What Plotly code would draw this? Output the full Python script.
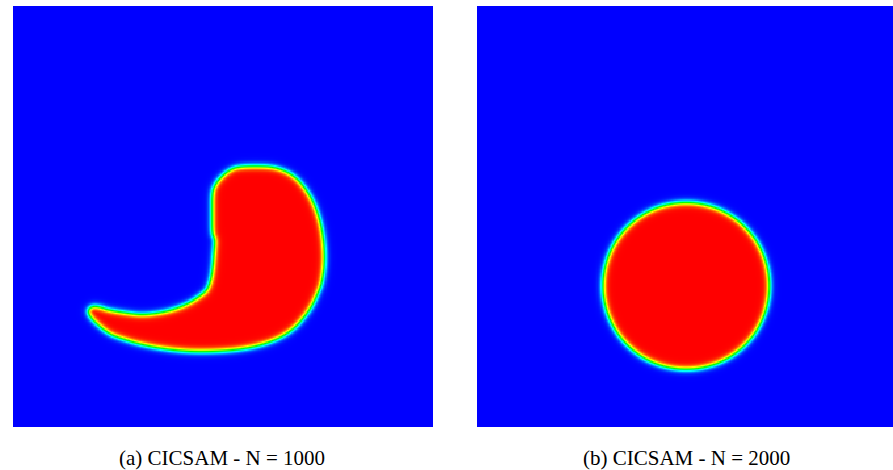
import numpy as np
import plotly.graph_objects as go

# ---- data (unit-square coordinates) ----
# (a) deformed drop boundary (0.5 level contour), N = 1000
shape_a_x = [0.179, 0.190, 0.207, 0.226, 0.267, 0.307, 0.350, 0.386, 0.421, 0.445,
             0.462, 0.471, 0.476, 0.479, 0.481, 0.474, 0.474, 0.474, 0.481, 0.493,
             0.512, 0.533, 0.576, 0.624, 0.667, 0.700, 0.724, 0.738, 0.743, 0.736,
             0.726, 0.707, 0.667, 0.612, 0.540, 0.445, 0.374, 0.307, 0.255, 0.226,
             0.195, 0.181]
shape_a_y = [0.278, 0.287, 0.285, 0.278, 0.271, 0.266, 0.271, 0.280, 0.295, 0.311,
             0.325, 0.349, 0.380, 0.420, 0.444, 0.461, 0.504, 0.556, 0.575, 0.591,
             0.608, 0.618, 0.620, 0.618, 0.599, 0.563, 0.515, 0.461, 0.397, 0.344,
             0.318, 0.278, 0.230, 0.200, 0.183, 0.178, 0.183, 0.195, 0.211, 0.223,
             0.249, 0.266]
# (b) circle, N = 2000
circle_b_center = (0.498, 0.335)
circle_b_radius = 0.198
interface_width = 0.008

captions = ["(a) CICSAM - N = 1000", "(b) CICSAM - N = 2000"]

NG = 320
g = (np.arange(NG) + 0.5) / NG
X, Y = np.meshgrid(g, g)


def chaikin(px, py, it=3):
    p = np.column_stack([px, py])
    for _ in range(it):
        q = np.roll(p, -1, axis=0)
        a = 0.75 * p + 0.25 * q
        b = 0.25 * p + 0.75 * q
        p = np.empty((2 * len(a), 2))
        p[0::2] = a
        p[1::2] = b
    return p


def polygon_field(px, py, w):
    p = chaikin(px, py)
    q = np.roll(p, -1, axis=0)
    pts = np.column_stack([X.ravel(), Y.ravel()])
    dmin = np.full(len(pts), np.inf)
    inside = np.zeros(len(pts), dtype=bool)
    for (x1, y1), (x2, y2) in zip(p, q):
        dx, dy = x2 - x1, y2 - y1
        t = ((pts[:, 0] - x1) * dx + (pts[:, 1] - y1) * dy) / (dx * dx + dy * dy)
        t = np.clip(t, 0, 1)
        d = np.hypot(pts[:, 0] - (x1 + t * dx), pts[:, 1] - (y1 + t * dy))
        dmin = np.minimum(dmin, d)
        cond = ((y1 > pts[:, 1]) != (y2 > pts[:, 1]))
        with np.errstate(divide="ignore", invalid="ignore"):
            xc = x1 + (pts[:, 1] - y1) * dx / dy
        inside ^= cond & (pts[:, 0] < xc)
    sd = np.where(inside, dmin, -dmin)
    return (0.5 * (1 + np.tanh(sd / w))).reshape(X.shape)


def circle_field(c, r, w):
    sd = r - np.hypot(X - c[0], Y - c[1])
    return 0.5 * (1 + np.tanh(sd / w))


za = polygon_field(shape_a_x, shape_a_y, interface_width)
zb = circle_field(circle_b_center, circle_b_radius, interface_width)

cs = [[0.0, "rgb(0,0,255)"], [0.25, "rgb(0,255,255)"], [0.5, "rgb(0,255,0)"],
      [0.75, "rgb(255,255,0)"], [1.0, "rgb(255,0,0)"]]

fig = go.Figure()
fig.add_trace(go.Heatmap(x=g, y=g, z=za, colorscale=cs, zmin=0, zmax=1,
                         showscale=False, xaxis="x", yaxis="y", hoverinfo="skip"))
fig.add_trace(go.Heatmap(x=g, y=g, z=zb, colorscale=cs, zmin=0, zmax=1,
                         showscale=False, xaxis="x2", yaxis="y2", hoverinfo="skip"))

W, H = 893, 470
ydom = [1 - 427 / H, 1 - 6 / H]
ax = dict(showgrid=False, zeroline=False, showticklabels=False, ticks="", showline=False)
fig.update_layout(
    width=W, height=H, margin=dict(l=0, r=0, t=0, b=0),
    paper_bgcolor="white", plot_bgcolor="white",
    xaxis=dict(domain=[13 / W, 433 / W], range=[0, 1], **ax),
    yaxis=dict(domain=ydom, range=[0, 1], **ax),
    xaxis2=dict(domain=[477 / W, 1.0], range=[0, 416 / 420], anchor="y2", **ax),
    yaxis2=dict(domain=ydom, range=[0, 1], anchor="x2", **ax),
)
for cx, txt in zip([222, 686], captions):
    fig.add_annotation(x=cx / W, y=1 - 458 / H, xref="paper", yref="paper",
                       text=txt, showarrow=False, xanchor="center", yanchor="middle",
                       font=dict(family="Liberation Serif", size=21, color="black"))

fig.write_html("out.html")
